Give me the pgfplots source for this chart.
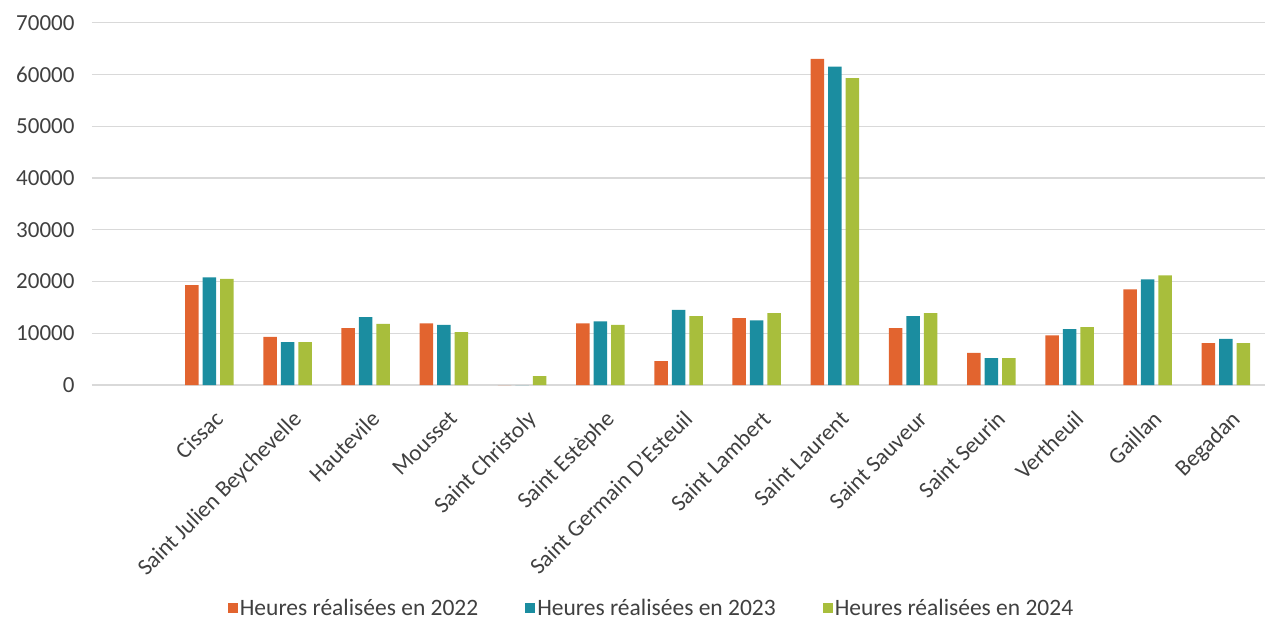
\documentclass[border=0pt]{standalone}
\usepackage{pgfplots}
\pgfplotsset{compat=1.18}
\usepackage{fontspec}
\setmainfont{Carlito}
\definecolor{c22}{HTML}{E2642F}
\definecolor{c23}{HTML}{1B8DA0}
\definecolor{c24}{HTML}{A8BE3C}
\definecolor{txt}{HTML}{404040}
\definecolor{gridc}{HTML}{D9D9D9}
\begin{document}
\begin{tikzpicture}
\useasboundingbox (0,0) rectangle (1266pt,630pt);
\begin{axis}[
  at={(92pt,245pt)}, anchor=south west,
  scale only axis, width=1173pt, height=362.3pt,
  ybar, bar width=13.5pt, ybar=4pt,
  xmin=-1.5, xmax=13.5, ymin=0, ymax=70000,
  xtick=data,
  xticklabels={Cissac,Saint Julien Beychevelle,Hautevile,Mousset,Saint Christoly,Saint Estèphe,Saint Germain D'Esteuil,Saint Lambert,Saint Laurent,Saint Sauveur,Saint Seurin,Vertheuil,Gaillan,Begadan},
  ytick={0,10000,...,70000},
  scaled y ticks=false,
  xmajorgrids=false, ymajorgrids=true,
  grid style={draw=gridc, line width=1.4pt},
  axis line style={draw=none},
  major tick length=0pt, tick style={draw=none},
  /pgf/number format/1000 sep={},
  /pgf/number format/assume math mode=true,
  tick label style={font=\fontsize{23}{27}\selectfont, text=txt},
  yticklabel style={xshift=-14pt},
  xticklabel style={xshift=4pt, yshift=-24pt, rotate=45, anchor=north east, inner sep=0pt},
  legend columns=3,
  legend style={at={(0.477,-0.6155)}, anchor=center, draw=none,
    font=\fontsize{23.5}{27}\selectfont, text=txt,
    /tikz/every even column/.append style={column sep=45pt},
    nodes={inner sep=2pt}},
  legend image code/.code={\fill[#1] (0pt,-5pt) rectangle (10pt,5pt);},
]
\addplot[fill=c22, draw=none] coordinates {(0,19300) (1,9300) (2,11000) (3,11900) (4,0) (5,11900) (6,4600) (7,12900) (8,63000) (9,11000) (10,6200) (11,9600) (12,18500) (13,8100)};
\addplot[fill=c23, draw=none] coordinates {(0,20800) (1,8300) (2,13100) (3,11600) (4,0) (5,12300) (6,14500) (7,12500) (8,61500) (9,13300) (10,5200) (11,10800) (12,20400) (13,8900)};
\addplot[fill=c24, draw=none] coordinates {(0,20500) (1,8300) (2,11800) (3,10200) (4,1700) (5,11600) (6,13300) (7,13900) (8,59300) (9,13900) (10,5200) (11,11200) (12,21200) (13,8100)};
\legend{Heures réalisées en 2022, Heures réalisées en 2023, Heures réalisées en 2024}
\end{axis}
\end{tikzpicture}
\end{document}
